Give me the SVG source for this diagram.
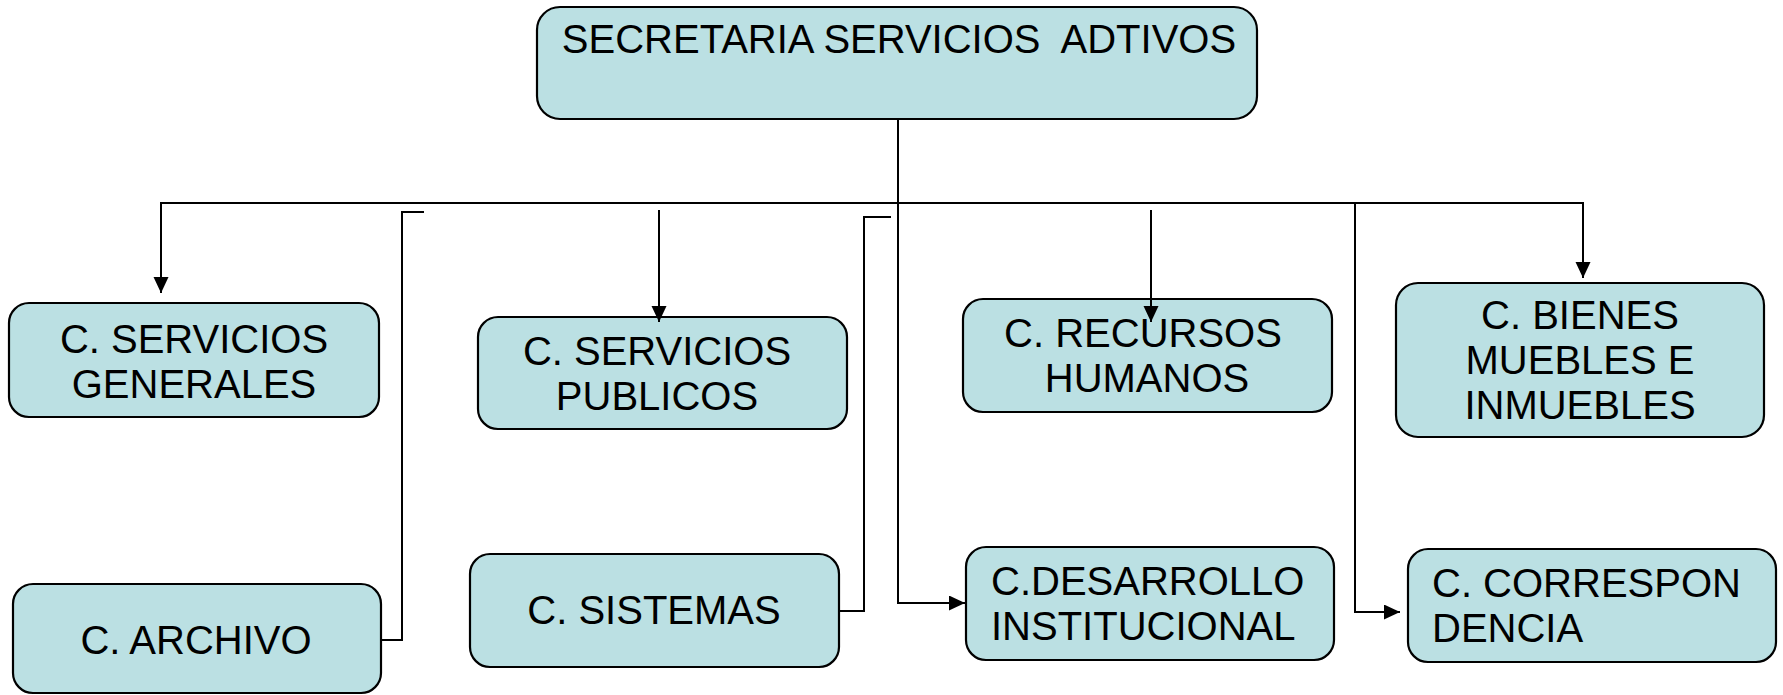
<svg xmlns="http://www.w3.org/2000/svg" width="1783" height="695" viewBox="0 0 1783 695">
<style>
.box{fill:#BBE0E3;stroke:#000;stroke-width:2.2}
.t{font-family:"Liberation Sans",Arial,sans-serif;font-size:40px;fill:#000}
.c{text-anchor:middle}
.ln{fill:none;stroke:#000;stroke-width:2}
</style>
<defs>
<marker id="ah" markerUnits="userSpaceOnUse" markerWidth="17" markerHeight="16" refX="16" refY="7.5" orient="auto">
<path d="M0,0 L16,7.5 L0,15 z" fill="#000"/>
</marker>
</defs>
<rect width="1783" height="695" fill="#fff"/>
<g id="n-secretaria">
<rect class="box" x="537" y="7" width="720" height="112" rx="23"/>
<text class="t c" x="899" y="53" xml:space="preserve">SECRETARIA SERVICIOS  ADTIVOS</text>
</g>
<g id="n-servicios-generales">
<rect class="box" x="9" y="303" width="370" height="114" rx="20"/>
<text class="t c" x="194" y="353">C. SERVICIOS</text>
<text class="t c" x="194" y="398">GENERALES</text>
</g>
<g id="n-servicios-publicos">
<rect class="box" x="478" y="317" width="369" height="112" rx="20"/>
<text class="t c" x="657" y="365">C. SERVICIOS</text>
<text class="t c" x="657" y="410">PUBLICOS</text>
</g>
<g id="n-recursos-humanos">
<rect class="box" x="963" y="299" width="369" height="113" rx="20"/>
<text class="t c" x="1143" y="347">C. RECURSOS</text>
<text class="t c" x="1147" y="392">HUMANOS</text>
</g>
<g id="n-bienes">
<rect class="box" x="1396" y="283" width="368" height="154" rx="22"/>
<text class="t c" x="1580" y="329">C. BIENES</text>
<text class="t c" x="1580" y="374">MUEBLES E</text>
<text class="t c" x="1580" y="419">INMUEBLES</text>
</g>
<g id="n-archivo">
<rect class="box" x="13" y="584" width="368" height="109" rx="20"/>
<text class="t c" x="196" y="654">C. ARCHIVO</text>
</g>
<g id="n-sistemas">
<rect class="box" x="470" y="554" width="369" height="113" rx="20"/>
<text class="t c" x="654" y="624">C. SISTEMAS</text>
</g>
<g id="n-desarrollo">
<rect class="box" x="966" y="547" width="368" height="113" rx="20"/>
<text class="t" x="991" y="595">C.DESARROLLO</text>
<text class="t" x="991" y="640">INSTITUCIONAL</text>
</g>
<g id="n-correspondencia">
<rect class="box" x="1408" y="549" width="368" height="113" rx="20"/>
<text class="t" x="1432" y="597">C. CORRESPON</text>
<text class="t" x="1432" y="642">DENCIA</text>
</g>
<g id="connectors">
<path class="ln" d="M898,119 V603 H965" marker-end="url(#ah)"/>
<path class="ln" d="M898,203 H161 V293" marker-end="url(#ah)"/>
<path class="ln" d="M898,203 H1583 V278" marker-end="url(#ah)"/>
<path class="ln" d="M1355,203 V612 H1400" marker-end="url(#ah)"/>
<path class="ln" d="M659,210 V322" marker-end="url(#ah)"/>
<path class="ln" d="M1151,210 V322" marker-end="url(#ah)"/>
<path class="ln" d="M424,212 H402 V640 H381"/>
<path class="ln" d="M891,217 H864 V611 H839"/>
</g>
</svg>
